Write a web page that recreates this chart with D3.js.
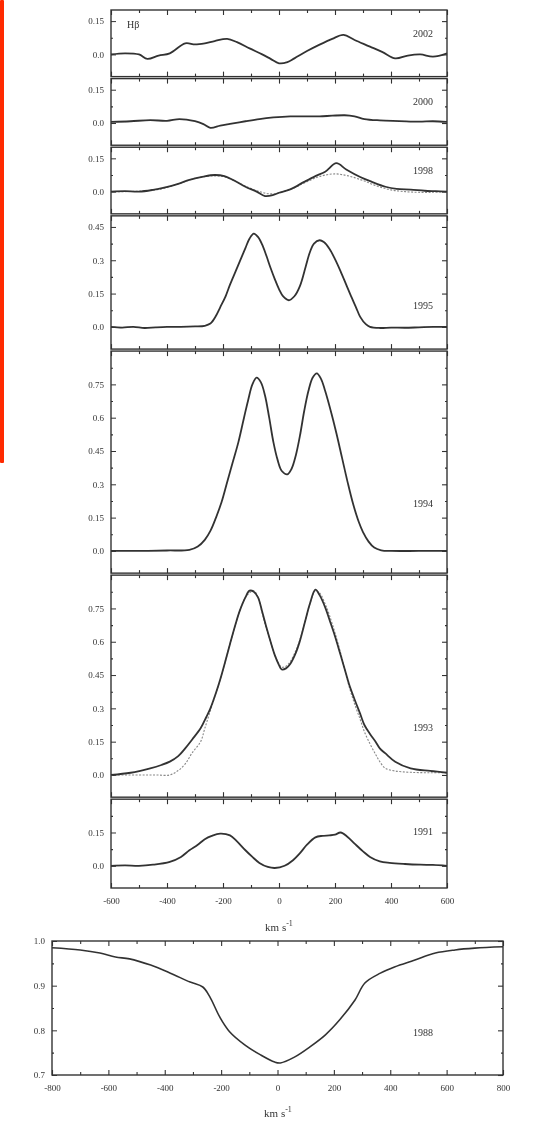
<!DOCTYPE html>
<html>
<head>
<meta charset="utf-8">
<script src="https://cdn.jsdelivr.net/npm/d3@7"></script>
<style>
  body { margin: 0; background: white; }
  text { font-family: "Liberation Serif", "DejaVu Serif", serif; fill: #333; }
</style>
</head>
<body>
<div id="chart"></div>
<script>
// panel labels, top to bottom
const years = ["2002", "2000", "1998", "1995", "1994", "1993", "1991"];
const yDomains = [[-0.1, 0.2], [-0.1, 0.2], [-0.1, 0.2], [-0.1, 0.5], [-0.1, 0.9], [-0.1, 0.9], [-0.1, 0.3]];
const yTickSets = [[0, 0.15], [0, 0.15], [0, 0.15], [0, 0.15, 0.3, 0.45],
  [0, 0.15, 0.3, 0.45, 0.6, 0.75], [0, 0.15, 0.3, 0.45, 0.6, 0.75], [0, 0.15]];
const xTicksTop = [-600, -400, -200, 0, 200, 400, 600];
const xTicksBottom = [-800, -600, -400, -200, 0, 200, 400, 600, 800];
const yTicksBottom = [0.7, 0.8, 0.9, 1.0];

// observed profiles [km/s, flux]
const obs2002 = [[-600,0.0],[-550,0.005],[-500,0.0],[-470,-0.02],[-430,-0.005],[-390,0.005],[-335,0.05],[-300,0.045],[-265,0.05],[-230,0.06],[-185,0.07],[-150,0.055],[-105,0.027],[-60,0.0],[-30,-0.02],[0,-0.04],[30,-0.035],[55,-0.018],[100,0.015],[145,0.044],[190,0.07],[230,0.088],[270,0.065],[325,0.035],[370,0.01],[415,-0.018],[460,-0.005],[505,0.0],[550,-0.01],[600,0.005]];
const obs2000 = [[-600,0.005],[-530,0.008],[-460,0.013],[-400,0.01],[-355,0.018],[-300,0.008],[-270,-0.005],[-245,-0.022],[-210,-0.012],[-175,-0.004],[-120,0.008],[-70,0.018],[-20,0.025],[40,0.03],[90,0.03],[145,0.03],[190,0.033],[235,0.035],[270,0.03],[305,0.018],[360,0.012],[430,0.009],[500,0.006],[550,0.008],[600,0.005]];
const obs1998 = [[-600,0],[-550,0.002],[-500,0],[-450,0.008],[-410,0.018],[-360,0.035],[-320,0.053],[-270,0.068],[-230,0.075],[-195,0.07],[-160,0.05],[-120,0.022],[-80,0.0],[-50,-0.02],[-20,-0.015],[0,-0.005],[40,0.01],[90,0.044],[130,0.07],[165,0.09],[205,0.128],[240,0.1],[290,0.066],[330,0.045],[380,0.022],[420,0.012],[470,0.009],[520,0.004],[560,0.002],[600,0]];
const obs1995 = [[-600,0],[-560,-0.003],[-520,0.0],[-480,-0.005],[-440,-0.002],[-400,0],[-350,0.0],[-300,0.002],[-265,0.005],[-245,0.015],[-225,0.05],[-210,0.088],[-190,0.14],[-175,0.19],[-155,0.25],[-140,0.295],[-120,0.355],[-105,0.398],[-90,0.42],[-75,0.405],[-60,0.37],[-45,0.32],[-30,0.265],[-15,0.215],[0,0.17],[15,0.137],[35,0.12],[55,0.138],[75,0.185],[95,0.27],[110,0.335],[125,0.375],[145,0.39],[160,0.382],[180,0.352],[200,0.305],[220,0.25],[240,0.19],[255,0.145],[275,0.088],[290,0.045],[310,0.012],[325,0.0],[360,-0.005],[400,-0.003],[450,-0.004],[500,-0.002],[550,0.0],[600,0]];
const obs1994 = [[-600,0],[-500,0],[-400,0.002],[-320,0.005],[-290,0.02],[-265,0.05],[-245,0.09],[-225,0.15],[-205,0.22],[-185,0.31],[-165,0.4],[-145,0.49],[-125,0.6],[-110,0.68],[-95,0.75],[-80,0.78],[-65,0.76],[-50,0.7],[-35,0.6],[-20,0.49],[-5,0.41],[10,0.36],[30,0.345],[45,0.37],[60,0.43],[75,0.52],[90,0.63],[105,0.72],[120,0.78],[135,0.8],[150,0.775],[165,0.72],[185,0.63],[205,0.53],[225,0.42],[245,0.31],[265,0.21],[285,0.13],[300,0.085],[320,0.042],[340,0.015],[365,0.003],[400,0],[500,0],[600,0]];
const obs1993 = [[-600,0],[-530,0.01],[-460,0.03],[-420,0.045],[-390,0.06],[-360,0.085],[-335,0.12],[-310,0.16],[-280,0.21],[-260,0.26],[-245,0.3],[-225,0.37],[-210,0.43],[-190,0.52],[-175,0.59],[-155,0.68],[-140,0.74],[-120,0.8],[-105,0.83],[-90,0.825],[-75,0.8],[-60,0.735],[-45,0.665],[-30,0.6],[-15,0.54],[0,0.495],[10,0.475],[25,0.48],[40,0.5],[60,0.55],[75,0.605],[95,0.7],[110,0.77],[130,0.835],[145,0.81],[165,0.755],[180,0.7],[200,0.625],[220,0.54],[235,0.475],[250,0.41],[270,0.34],[290,0.275],[305,0.225],[325,0.185],[345,0.15],[360,0.12],[380,0.097],[415,0.06],[470,0.03],[540,0.018],[600,0.01]];
const obs1991 = [[-600,0],[-550,0.002],[-500,0],[-450,0.005],[-390,0.018],[-350,0.04],[-320,0.07],[-290,0.095],[-265,0.12],[-240,0.135],[-210,0.145],[-175,0.137],[-150,0.11],[-120,0.07],[-95,0.04],[-70,0.013],[-40,-0.005],[-15,-0.01],[20,0],[50,0.025],[75,0.057],[100,0.095],[130,0.128],[155,0.135],[180,0.137],[200,0.14],[220,0.15],[245,0.13],[270,0.1],[300,0.065],[325,0.04],[360,0.02],[395,0.013],[450,0.008],[505,0.005],[550,0.004],[600,0]];

// fitted (dotted) profiles
const fit1998 = [[-600,0],[-500,0.002],[-420,0.012],[-360,0.035],[-300,0.06],[-250,0.07],[-200,0.068],[-160,0.05],[-120,0.025],[-70,0.0],[-30,-0.01],[0,-0.005],[50,0.015],[100,0.045],[150,0.07],[200,0.08],[250,0.07],[300,0.05],[350,0.025],[400,0.008],[450,0.0],[500,-0.003],[550,-0.003],[600,0]];
const fit1993 = [[-600,0],[-500,0],[-440,0],[-390,0.0],[-360,0.02],[-335,0.05],[-310,0.1],[-280,0.15],[-265,0.21],[-245,0.29],[-225,0.37],[-210,0.43],[-190,0.52],[-175,0.59],[-155,0.68],[-140,0.74],[-120,0.8],[-105,0.82],[-90,0.83],[-75,0.8],[-60,0.73],[-50,0.68],[-30,0.6],[-15,0.54],[0,0.5],[10,0.485],[25,0.49],[40,0.51],[60,0.56],[75,0.61],[95,0.7],[110,0.77],[130,0.83],[145,0.82],[165,0.77],[180,0.72],[200,0.64],[220,0.55],[235,0.475],[250,0.4],[270,0.32],[290,0.25],[305,0.195],[325,0.14],[345,0.093],[360,0.06],[380,0.03],[415,0.018],[470,0.012],[540,0.01],[600,0.01]];

// absorption profile in the separate bottom panel
const obs1988 = [[-800,0.985],[-700,0.98],[-630,0.973],[-575,0.964],[-525,0.96],[-450,0.946],[-380,0.928],[-310,0.908],[-265,0.897],[-240,0.875],[-205,0.83],[-170,0.797],[-115,0.767],[-60,0.745],[-10,0.729],[10,0.727],[60,0.74],[115,0.763],[170,0.79],[220,0.823],[275,0.868],[310,0.906],[365,0.928],[415,0.942],[485,0.957],[560,0.973],[630,0.98],[700,0.984],[800,0.987]];

const observed = [obs2002, obs2000, obs1998, obs1995, obs1994, obs1993, obs1991];
const fitted = [null, null, fit1998, null, null, fit1993, null];

const width = 544, height = 1121;
const svg = d3.select('#chart').append('svg')
  .attr('width', width)
  .attr('height', height)
  .style('background', 'white');

svg.append('defs').append('filter').attr('id', 'soft')
  .append('feGaussianBlur').attr('stdDeviation', 0.5);

// red strip on the left edge
svg.append('rect')
  .attr('x', 0).attr('y', 0).attr('width', 4).attr('height', 463)
  .attr('rx', 1).attr('fill', '#ff2a00');

const g = svg.append('g').attr('filter', 'url(#soft)');

const ink = '#333';
const plotLeft = 111, plotRight = 447, plotTop = 10, plotBottom = 888, gap = 2;
const total = d3.sum(yDomains, d => d[1] - d[0]);
const k = (plotBottom - plotTop - gap * (years.length - 1)) / total;

const x = d3.scaleLinear().domain([-600, 600]).range([plotLeft, plotRight]);
const fmt = v => v === 0 ? '0.0' : String(v);
const fmtX = v => String(v);

const line = y => d3.line()
  .x(d => x(d[0]))
  .y(d => y(d[1]))
  .curve(d3.curveCatmullRom.alpha(0.5));

function frameTicks(p, xs, y, xMajor, xMinor, yMajor, yMinor) {
  const [x0, x1] = xs.range();
  const [y1, y0] = y.range();
  p.append('g').attr('transform', `translate(0,${y0})`)
    .call(d3.axisTop(xs).tickValues(xMajor).tickSize(-5).tickFormat(''));
  p.append('g').attr('transform', `translate(0,${y0})`)
    .call(d3.axisTop(xs).tickValues(xMinor).tickSize(-3).tickFormat(''));
  p.append('g').attr('transform', `translate(0,${y1})`)
    .call(d3.axisBottom(xs).tickValues(xMajor).tickSize(-5).tickFormat(''));
  p.append('g').attr('transform', `translate(0,${y1})`)
    .call(d3.axisBottom(xs).tickValues(xMinor).tickSize(-3).tickFormat(''));
  p.append('g').attr('transform', `translate(${x1},0)`)
    .call(d3.axisRight(y).tickValues(yMajor).tickSize(-5).tickFormat(''));
  p.append('g').attr('transform', `translate(${x1},0)`)
    .call(d3.axisRight(y).tickValues(yMinor).tickSize(-2).tickFormat(''));
  p.append('g').attr('transform', `translate(${x0},0)`)
    .call(d3.axisLeft(y).tickValues(yMinor).tickSize(-2).tickFormat(''));
  p.selectAll('.domain').remove();
  p.selectAll('.tick line').attr('stroke', ink).attr('stroke-width', 1.1);
  p.append('rect')
    .attr('x', x0).attr('y', y0)
    .attr('width', x1 - x0).attr('height', y1 - y0)
    .attr('fill', 'none').attr('stroke', ink).attr('stroke-width', 1.4);
}

let yPos = plotTop;
years.forEach((year, i) => {
  const dom = yDomains[i];
  const h = (dom[1] - dom[0]) * k;
  const y = d3.scaleLinear().domain(dom).range([yPos + h, yPos]);
  const p = g.append('g');

  const yMinor = d3.range(0.075, dom[1], 0.15);
  frameTicks(p, x, y, xTicksTop, d3.range(-500, 600, 200), yTickSets[i], yMinor);

  // left axis with labels
  const ya = p.append('g').attr('transform', `translate(${plotLeft},0)`)
    .call(d3.axisLeft(y).tickValues(yTickSets[i]).tickSize(-5).tickPadding(7).tickFormat(fmt));
  ya.select('.domain').remove();
  ya.selectAll('.tick line').attr('stroke', ink);
  ya.selectAll('text').style('font-size', '9px').attr('fill', '#333');

  if (fitted[i]) {
    p.append('path').datum(fitted[i])
      .attr('d', line(y))
      .attr('fill', 'none').attr('stroke', '#888')
      .attr('stroke-width', 1.1).attr('stroke-dasharray', '2,1.5');
  }
  p.append('path').datum(observed[i])
    .attr('d', line(y))
    .attr('fill', 'none').attr('stroke', ink).attr('stroke-width', 1.8);

  p.append('text')
    .attr('x', 433).attr('y', y(dom[1]) + h * (i === 3 || i === 4 || i === 5 ? 0.7 : 0.4))
    .attr('text-anchor', 'end')
    .style('font-size', '10px')
    .text(year);

  if (i === 0) {
    p.append('text').attr('x', 127).attr('y', y(0.12))
      .style('font-size', '10px').text('Hβ');
  }

  if (i === years.length - 1) {
    const xa = p.append('g').attr('transform', `translate(0,${yPos + h})`)
      .call(d3.axisBottom(x).tickValues(xTicksTop).tickSize(0).tickPadding(10).tickFormat(fmtX));
    xa.select('.domain').remove();
    xa.selectAll('text').style('font-size', '9px').attr('fill', '#333');
  }
  yPos += h + gap;
});

const unit = (cx, cy) => {
  const t = g.append('text').attr('x', cx).attr('y', cy)
    .attr('text-anchor', 'middle').style('font-size', '11px');
  t.append('tspan').text('km s');
  t.append('tspan').attr('dy', -5).style('font-size', '8px').text('-1');
};
unit(279, 931);

// bottom absorption panel
const xb = d3.scaleLinear().domain([-800, 800]).range([52, 503]);
const yb = d3.scaleLinear().domain([0.7, 1.0]).range([1075, 941]);
const pb = g.append('g');
frameTicks(pb, xb, yb, xTicksBottom, d3.range(-700, 800, 200), yTicksBottom, [0.75, 0.85, 0.95]);

const yba = pb.append('g').attr('transform', 'translate(52,0)')
  .call(d3.axisLeft(yb).tickValues(yTicksBottom).tickSize(-5).tickPadding(7).tickFormat(d3.format('.1f')));
yba.select('.domain').remove();
yba.selectAll('.tick line').attr('stroke', ink);
yba.selectAll('text').style('font-size', '9px').attr('fill', '#333');

const xba = pb.append('g').attr('transform', 'translate(0,1075)')
  .call(d3.axisBottom(xb).tickValues(xTicksBottom).tickSize(0).tickPadding(10).tickFormat(fmtX));
xba.select('.domain').remove();
xba.selectAll('text').style('font-size', '9px').attr('fill', '#333');

pb.append('path').datum(obs1988)
  .attr('d', d3.line().x(d => xb(d[0])).y(d => yb(d[1])).curve(d3.curveCatmullRom.alpha(0.5)))
  .attr('fill', 'none').attr('stroke', ink).attr('stroke-width', 1.6);

pb.append('text').attr('x', 433).attr('y', 1036)
  .attr('text-anchor', 'end').style('font-size', '10px').text('1988');

unit(278, 1117);
</script>
</body>
</html>
